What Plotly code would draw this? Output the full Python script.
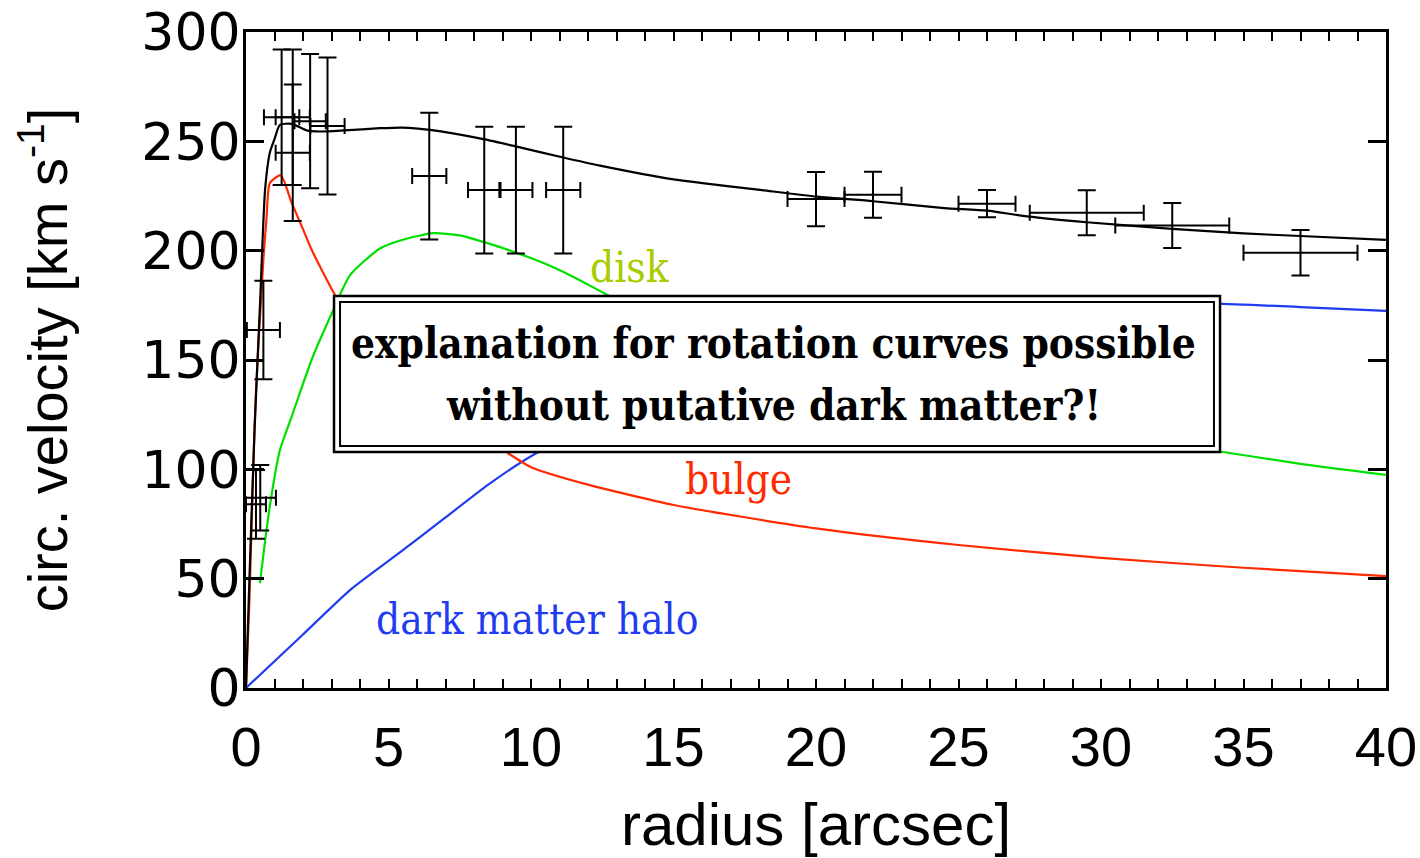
import plotly.graph_objects as go

# Measured circular velocities with radial and velocity uncertainties
radius = [0.50, 0.35, 0.61, 1.25, 1.64, 1.64, 2.25, 2.86, 6.43, 8.36, 9.47, 11.13,
          20.0, 22.0, 26.0, 29.5, 32.5, 37.0]
radius_err = [0.55, 0.35, 0.58, 0.62, 0.60, 0.60, 0.55, 0.60, 0.60, 0.57, 0.58, 0.60,
              1.0, 1.0, 1.0, 2.0, 2.0, 2.0]
velocity = [87.0, 84.0, 163.7, 261.0, 261.0, 244.8, 259.2, 257.0, 234.1, 227.7, 227.7, 227.7,
            223.6, 225.6, 221.5, 217.3, 211.5, 199.0]
velocity_err = [15.0, 15.7, 22.5, 31.0, 31.0, 31.2, 30.7, 31.3, 29.0, 29.0, 29.0, 29.0,
                12.4, 10.5, 6.2, 10.3, 10.3, 10.4]

# Model components
total_r = [0, 0.12, 0.3, 0.5, 0.67, 0.84, 1.0, 1.19, 1.6, 2.13, 2.6, 3.45, 4.7, 5.5,
           6.46, 8.33, 9.5, 11.13, 12.42, 15, 18.04, 20.04, 22, 24.5, 26, 27.4, 29.5,
           32.5, 35, 37, 40]
total_v = [0, 50, 118, 178, 228, 245, 251, 257.5, 258, 255, 254.5, 255, 256, 256.3,
           255.2, 251, 247.6, 242.6, 238.9, 232.6, 227.8, 224.7, 222.6, 219.5, 218.3,
           215.7, 213, 210, 207.9, 206.7, 204.9]

bulge_r = [0, 0.12, 0.26, 0.35, 0.61, 0.72, 0.84, 1.22, 1.6, 2.01, 2.3, 3.12, 4, 5, 6,
           7, 8, 9, 10, 12, 15, 20, 25, 30, 35, 40]
bulge_v = [0, 40, 103, 136, 196, 215, 231, 234.5, 222, 209.5, 200.5, 179.8, 162, 148,
           136, 126, 117, 109, 101, 93, 83.7, 73, 65.4, 59.5, 55, 51.2]

disk_r = [0.49, 0.8, 1.19, 1.6, 2.3, 3.0, 3.65, 4.7, 5.5, 6.57, 7.5, 8.33, 9.5, 10.5,
          11.49, 12.65, 15, 20, 25, 30, 34, 37, 40]
disk_v = [48, 80, 108.8, 124, 150, 171, 188.8, 201, 205, 208, 207, 204, 199, 194, 188,
          180, 165, 140, 124, 116, 108.5, 102.5, 97.5]

halo_r = [0, 2, 3.65, 5.4, 7, 8.5, 10, 12, 15, 20, 25, 30, 34, 37, 40]
halo_v = [0, 24.5, 44.8, 62, 78, 93, 106, 119, 137, 158, 170, 175, 175.8, 174.2, 172.5]

x_ticks = [0, 5, 10, 15, 20, 25, 30, 35, 40]
y_ticks = [0, 50, 100, 150, 200, 250, 300]

RED = "#ff2a00"
GREEN = "#00e000"
BLUE = "#1f3cf0"

fig = go.Figure()

for r, v, c in [(halo_r, halo_v, BLUE), (disk_r, disk_v, GREEN),
                (bulge_r, bulge_v, RED), (total_r, total_v, "black")]:
    fig.add_trace(go.Scatter(x=r, y=v, mode="lines",
                             line=dict(color=c, width=2.2, shape="spline", smoothing=0.6),
                             hoverinfo="skip"))

fig.add_trace(go.Scatter(
    x=radius, y=velocity, mode="markers",
    marker=dict(size=1, color="black"),
    error_x=dict(type="data", array=radius_err, color="black", thickness=2, width=8),
    error_y=dict(type="data", array=velocity_err, color="black", thickness=2, width=9),
))

# Double-framed message box (paper coordinates of the plot area)
fig.add_shape(type="rect", xref="paper", yref="paper",
              x0=0.0772, x1=0.8544, y0=0.3598, y1=0.5976,
              line=dict(color="black", width=2.5), fillcolor="white", layer="above")
fig.add_shape(type="rect", xref="paper", yref="paper",
              x0=0.0825, x1=0.8491, y0=0.3689, y1=0.5884,
              line=dict(color="black", width=2), fillcolor="rgba(0,0,0,0)", layer="above")

box_font = dict(family="DejaVu Serif Condensed, DejaVu Serif", size=42, color="black")
for txt, yy in [("explanation for rotation curves possible", 0.5244),
                ("without putative dark matter?!", 0.4299)]:
    fig.add_annotation(xref="paper", yref="paper", x=0.4623, y=yy,
                       xanchor="center", yanchor="middle",
                       text="<b>" + txt + "</b>", showarrow=False, font=box_font)

label_font = "DejaVu Serif Condensed, DejaVu Serif"
for txt, xx, yy, col in [("disk", 0.3368, 0.6404, "#a8cc00"),
                         ("bulge", 0.4316, 0.3171, RED),
                         ("dark matter halo", 0.2553, 0.1037, BLUE)]:
    fig.add_annotation(xref="paper", yref="paper", x=xx, y=yy,
                       xanchor="center", yanchor="middle", text=txt, showarrow=False,
                       font=dict(family=label_font, size=42, color=col))

sans = "Liberation Sans, Arial, sans-serif"

fig.update_layout(
    width=1420, height=858,
    margin=dict(l=246, r=34, t=32, b=170),
    paper_bgcolor="white", plot_bgcolor="white",
    showlegend=False,
    xaxis=dict(
        range=[0, 40], tickvals=x_ticks, ticks="inside", ticklen=9, tickwidth=2,
        tickcolor="black", mirror="ticks", showline=True, linewidth=3, linecolor="black",
        showgrid=False, zeroline=False, ticklabeloverflow="allow", automargin=False,
        minor=dict(dtick=1, ticks="inside", ticklen=9, tickwidth=2, tickcolor="black"),
        tickfont=dict(family=sans, size=56, color="black"), ticklabelstandoff=8,
        title=dict(text="radius [arcsec]", font=dict(family=sans, size=60, color="black"),
                   standoff=26),
    ),
    yaxis=dict(
        range=[0, 300], tickvals=y_ticks, ticks="inside", ticklen=18, tickwidth=3,
        tickcolor="black", mirror="ticks", showline=True, linewidth=3, linecolor="black",
        showgrid=False, zeroline=False, ticklabeloverflow="allow", automargin=False,
        tickfont=dict(family="DejaVu Sans, sans-serif", size=52, color="black"),
        ticklabelstandoff=-8,
        title=dict(text="circ. velocity [km s<sup>-1</sup>]",
                   font=dict(family=sans, size=56, color="black"), standoff=56),
    ),
)

fig.write_html("out.html")
